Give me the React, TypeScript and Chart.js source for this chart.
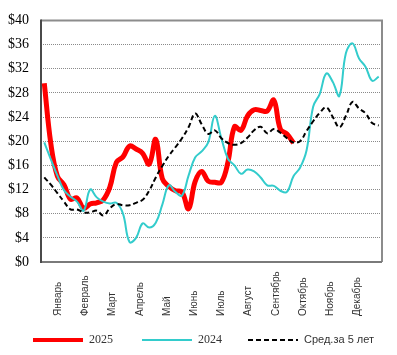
import React, { useEffect, useRef } from "react";
import { Chart, registerables } from "chart.js";

Chart.register(...registerables);

const monthLabels = [
  "Январь", "Февраль", "Март", "Апрель", "Май", "Июнь",
  "Июль", "Август", "Сентябрь", "Октябрь", "Ноябрь", "Декабрь",
];
// position of each month label on the week axis
const monthLabelWeeks = [2.14, 6.29, 10.43, 14.58, 18.73, 22.88, 27.02, 31.17, 35.32, 39.47, 43.61, 47.76];

const yTickValues = [0, 4, 8, 12, 16, 20, 24, 28, 32, 36, 40];

const series2025 = [
  29.6, 19.6, 14.2, 12.8, 10.4, 10.6, 8.9, 9.6, 9.8, 10.3,
  12.4, 16.5, 17.4, 19.2, 18.7, 18.0, 16.2, 20.3, 13.8, 12.5,
  11.8, 11.6, 8.8, 13.3, 15.0, 13.4, 13.2, 13.2, 16.5, 22.4,
  21.8, 24.2, 25.2, 25.1, 25.0, 26.8, 22.0, 21.2, 19.7,
];

const series2024 = [
  19.8, 17.0, 14.3, 11.9, 10.8, 10.0, 8.5, 12.0, 10.7, 10.0,
  9.7, 9.8, 8.0, 3.3, 4.0, 6.4, 5.7, 6.5, 9.5, 12.7,
  11.6, 11.0, 14.3, 17.3, 18.3, 19.8, 24.2, 20.5, 17.1, 16.0,
  14.6, 15.3, 15.0, 14.0, 12.7, 12.6, 11.8, 11.6, 14.2, 15.6,
  18.5, 25.7, 27.8, 31.2, 29.8, 27.5, 34.6, 36.2, 33.7, 32.3,
  30.0, 30.7,
];

const seriesAvg5 = [
  14.0, 12.8, 11.4, 10.0, 8.7, 8.7, 8.2, 8.2, 8.5, 7.7,
  8.9, 9.6, 9.4, 9.4, 9.8, 10.3, 11.8, 14.0, 15.9, 17.6,
  19.0, 20.5, 22.3, 24.6, 22.8, 21.2, 21.8, 20.5, 19.7, 19.4,
  19.7, 20.6, 21.8, 22.4, 21.3, 22.0, 21.4, 20.5, 19.8, 20.0,
  21.7, 23.3, 24.7, 25.6, 24.0, 22.3, 24.2, 26.5, 25.4, 24.6,
  23.0, 22.6,
];

const legendItems = [
  { label: "2025", color: "#ff0000", width: 4, dash: [] as number[], font: "12px 'Liberation Serif'" },
  { label: "2024", color: "#33cccc", width: 2, dash: [] as number[], font: "12px 'Liberation Serif'" },
  { label: "Сред.за 5 лет", color: "#000000", width: 2, dash: [5, 3], font: "11px 'Liberation Sans'" },
];

const toPoints = (arr: number[]) => arr.map((v, i) => ({ x: i, y: v }));

const decorPlugin = {
  id: "decor",
  beforeDatasetsDraw(chart: any) {
    const { ctx, chartArea } = chart;
    const { left, right, top, bottom } = chartArea;
    ctx.save();
    ctx.lineWidth = 2;
    ctx.strokeStyle = "#8c8c8c";
    ctx.beginPath();
    ctx.moveTo(left, top);
    ctx.lineTo(right, top);
    ctx.lineTo(right, bottom);
    ctx.stroke();
    ctx.strokeStyle = "#7a7a7a";
    ctx.beginPath();
    ctx.moveTo(left, bottom);
    ctx.lineTo(right, bottom);
    ctx.stroke();
    ctx.strokeStyle = "#4a4a4a";
    ctx.beginPath();
    ctx.moveTo(left, top - 1);
    ctx.lineTo(left, bottom + 1);
    ctx.stroke();
    ctx.restore();
  },
  afterDraw(chart: any) {
    const { ctx } = chart;
    const xs = chart.scales.x;
    ctx.save();
    // month labels rotated, reading bottom-to-top
    ctx.fillStyle = "#333333";
    ctx.font = "10px 'Liberation Sans'";
    ctx.textAlign = "left";
    ctx.textBaseline = "middle";
    monthLabels.forEach((m, i) => {
      const x = xs.getPixelForValue(monthLabelWeeks[i]);
      ctx.save();
      ctx.translate(x, 316);
      ctx.rotate(-Math.PI / 2);
      ctx.fillText(m, 0, 0);
      ctx.restore();
    });
    // legend
    const starts = [33, 142, 248];
    const y = 340;
    legendItems.forEach((it, i) => {
      const x0 = starts[i];
      ctx.save();
      ctx.strokeStyle = it.color;
      ctx.lineWidth = it.width;
      ctx.lineCap = "butt";
      ctx.setLineDash(it.dash);
      ctx.beginPath();
      ctx.moveTo(x0, y);
      ctx.lineTo(x0 + 50, y);
      ctx.stroke();
      ctx.restore();
      ctx.fillStyle = "#333333";
      ctx.font = it.font;
      ctx.textAlign = "left";
      ctx.textBaseline = "middle";
      ctx.fillText(it.label, x0 + 56, y);
    });
    ctx.restore();
  },
};

export default function App() {
  const ref = useRef<HTMLCanvasElement | null>(null);
  useEffect(() => {
    if (!ref.current) return;
    const chart = new Chart(ref.current, {
      type: "line",
      data: {
        datasets: [
          {
            label: "Сред.за 5 лет",
            data: toPoints(seriesAvg5),
            borderColor: "#000000",
            borderWidth: 2,
            borderDash: [5, 3],
            pointRadius: 0,
            tension: 0.4,
            fill: false,
            order: 1,
          },
          {
            label: "2024",
            data: toPoints(series2024),
            borderColor: "#33cccc",
            borderWidth: 2,
            pointRadius: 0,
            tension: 0.4,
            fill: false,
            order: 2,
          },
          {
            label: "2025",
            data: toPoints(series2025),
            borderColor: "#ff0000",
            borderWidth: 5,
            pointRadius: 0,
            tension: 0.4,
            fill: false,
            order: 3,
          },
        ],
      },
      options: {
        responsive: false,
        animation: false,
        layout: { padding: { left: 0, top: 19, right: 15, bottom: 93 } },
        plugins: { legend: { display: false }, tooltip: { enabled: false } },
        scales: {
          x: {
            type: "linear",
            min: -0.5,
            max: 51.5,
            grid: { display: false },
            border: { display: false },
            ticks: { display: false },
            afterFit: (s: any) => { s.height = 0; },
          },
          y: {
            min: 0,
            max: 40,
            afterBuildTicks: (s: any) => { s.ticks = yTickValues.map((v) => ({ value: v })); },
            afterFit: (s: any) => { s.width = 41; },
            grid: { color: "#8a8a8a", lineWidth: 1, drawTicks: false },
            border: { display: false, dash: [1, 1] },
            ticks: {
              padding: 12,
              color: "#000000",
              font: { family: "'Liberation Serif'", size: 14 },
              callback: (v: any) => "$" + v,
            },
          },
        },
      },
      plugins: [decorPlugin],
    });
    return () => chart.destroy();
  }, []);
  return (
    <div style={{ position: "absolute", left: 0, top: 0, width: 397, height: 355, background: "#fff" }}>
      <canvas ref={ref} width={397} height={355} style={{ display: "block" }} />
    </div>
  );
}
